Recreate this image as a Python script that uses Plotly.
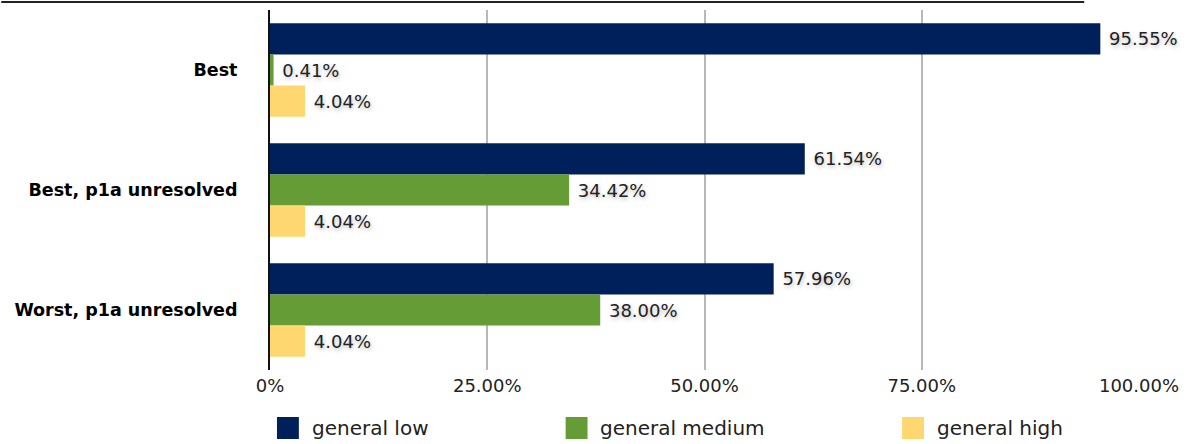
import plotly.graph_objects as go

# Scenario categories (top to bottom)
categories = ["Best", "Best, p1a unresolved", "Worst, p1a unresolved"]

# Share of cases per severity class, in percent
general_low = [95.55, 61.54, 57.96]
general_medium = [0.41, 34.42, 38.00]
general_high = [4.04, 4.04, 4.04]

series_names = ["general low", "general medium", "general high"]
series_colors = ["#00205B", "#669C35", "#FFD770"]

tick_values = [0, 25, 50, 75, 100]
tick_labels = ["0%", "25.00%", "50.00%", "75.00%", "100.00%"]

W, H = 1189, 444
ML, MR, MT, MB = 270, 46, 10, 74
PW, PH = W - ML - MR, H - MT - MB

FONT = "'DejaVu Sans', sans-serif"
TEXT_COLOR = "#222222"


def px_x(x):
    return (x - ML) / PW


def px_y(y):
    return (H - MB - y) / PH


fig = go.Figure()
for name, vals, color in zip(series_names,
                             [general_low, general_medium, general_high],
                             series_colors):
    fig.add_trace(go.Bar(
        y=categories,
        x=vals,
        name=name,
        orientation="h",
        marker=dict(color=color, line=dict(width=0)),
        text=[f"\u00a0{v:.2f}%" for v in vals],
        textposition="outside",
        cliponaxis=False,
        textfont=dict(family=FONT, size=18, color=TEXT_COLOR,
                      shadow="1px 2px 4px rgba(0,0,0,0.28)"),
        showlegend=False,
    ))

# Legend: large square swatches with labels
shapes = []
annotations = []
legend_x = [277, 567, 905]
for name, color, lx in zip(series_names, series_colors, legend_x):
    shapes.append(dict(type="rect", xref="paper", yref="paper",
                       x0=px_x(lx), x1=px_x(lx + 22),
                       y0=px_y(439), y1=px_y(417),
                       fillcolor=color, line=dict(width=0)))
    annotations.append(dict(xref="paper", yref="paper",
                            x=px_x(lx + 33), y=px_y(428),
                            xanchor="left", yanchor="middle",
                            text=name, showarrow=False,
                            font=dict(family=FONT, size=20, color=TEXT_COLOR)))

# Rule across the top of the chart
shapes.append(dict(type="line", xref="paper", yref="paper",
                   x0=px_x(0), x1=px_x(1088), y0=px_y(2), y1=px_y(2),
                   line=dict(color="#222222", width=2)))

fig.update_layout(
    width=W, height=H,
    margin=dict(l=ML, r=MR, t=MT, b=MB),
    paper_bgcolor="white",
    plot_bgcolor="white",
    barmode="group",
    bargap=0.22,
    bargroupgap=0,
    font=dict(family=FONT, size=18, color=TEXT_COLOR),
    shapes=shapes,
    annotations=annotations,
    xaxis=dict(
        range=[0, 100],
        tickvals=tick_values,
        ticktext=tick_labels,
        showgrid=True,
        gridcolor="#B8B8B8",
        gridwidth=2,
        zeroline=False,
        showline=False,
        ticks="",
        ticklabelstandoff=3,
        tickfont=dict(family=FONT, size=18, color=TEXT_COLOR),
    ),
    yaxis=dict(
        autorange="reversed",
        showgrid=False,
        showline=True,
        linecolor="#111111",
        linewidth=2,
        ticks="",
        ticklabelstandoff=27,
        tickfont=dict(family=FONT, size=17.5, color="#000000", weight="bold"),
    ),
)

fig.write_html("out.html")
